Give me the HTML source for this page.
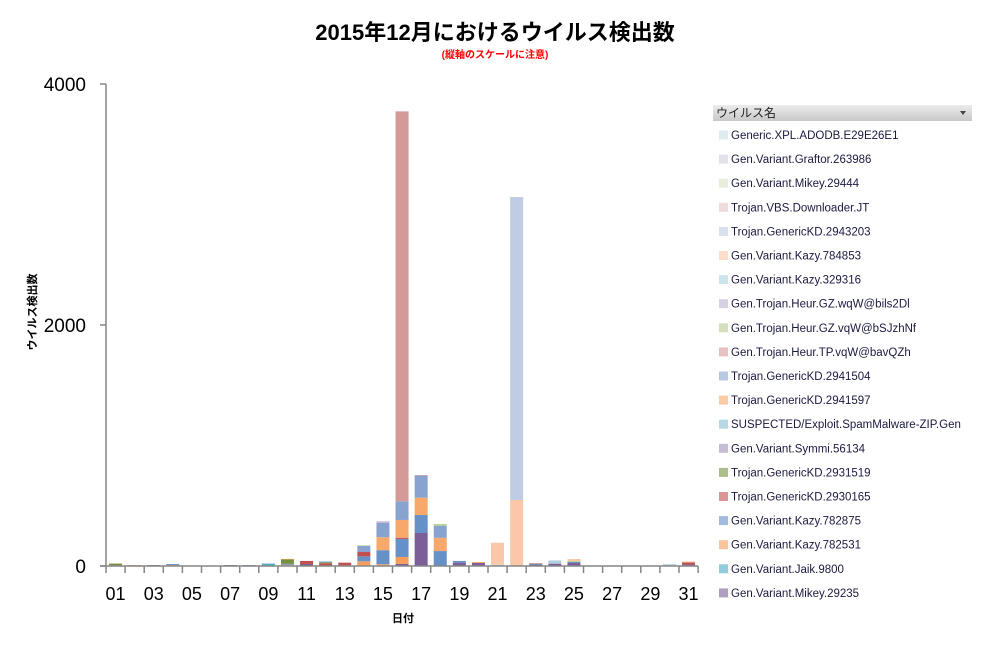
<!DOCTYPE html>
<html><head><meta charset="utf-8"><style>
body{margin:0;background:#fff;}
svg{display:block;font-family:"Liberation Sans","Noto Sans CJK JP",sans-serif;}
</style></head><body>
<svg id="chart" width="987" height="648" viewBox="0 0 987 648">
<defs><linearGradient id="hg" x1="0" y1="0" x2="0" y2="1"><stop offset="0" stop-color="#ececec"/><stop offset="1" stop-color="#c8c8c8"/></linearGradient></defs>
<rect width="987" height="648" fill="#fff"/>
<text x="495" y="40" text-anchor="middle" font-size="22" font-weight="bold" fill="#000">2015年12月におけるウイルス検出数</text>
<text x="495" y="58" text-anchor="middle" font-size="10" font-weight="bold" fill="#ff0000">(縦軸のスケールに注意)</text>
<text transform="translate(36,312) rotate(-90)" text-anchor="middle" font-size="11" font-weight="bold">ウイルス検出数</text>
<text x="403" y="622" text-anchor="middle" font-size="11" font-weight="bold">日付</text>
<g id="plot"></g>
<g id="legend">
<rect x="713" y="105" width="259" height="16" fill="url(#hg)"/>
<text x="716" y="117" font-size="12" fill="#222">ウイルス名</text>
<path d="M960 111 L966 111 L963 115 Z" fill="#444"/>
</g>
</svg>
<script>
const days = ['01','02','03','04','05','06','07','08','09','10','11','12','13','14','15','16','17','18','19','20','21','22','23','24','25','26','27','28','29','30','31'];
const yTicks = [0, 2000, 4000];
// series names, bottom of stack first
const seriesNames = ['Gen.Variant.Mikey.29235','Gen.Variant.Jaik.9800','Gen.Variant.Kazy.782531','Gen.Variant.Kazy.782875','Trojan.GenericKD.2930165','Trojan.GenericKD.2931519','Gen.Variant.Symmi.56134','SUSPECTED/Exploit.SpamMalware-ZIP.Gen','Trojan.GenericKD.2941597','Trojan.GenericKD.2941504','Gen.Trojan.Heur.TP.vqW@bavQZh','Gen.Trojan.Heur.GZ.vqW@bSJzhNf','Gen.Trojan.Heur.GZ.wqW@bils2Dl','Gen.Variant.Kazy.329316','Gen.Variant.Kazy.784853','Trojan.GenericKD.2943203','Trojan.VBS.Downloader.JT','Gen.Variant.Mikey.29444','Gen.Variant.Graftor.263986','Generic.XPL.ADODB.E29E26E1'];
const seriesColors = ['#7c5e98','#4bacc6','#f79d5a','#6590c8','#c0504d','#778f3e','#9e8db8','#86c0d4','#f9a86c','#88a3cf','#d49a98','#b5cc8e','#bdb0d0','#a9d3e0','#fac8a8','#c0cce4','#e3c4c4','#d7e4c5','#d2cde0','#c7dfe6'];
const s00 = [0,0,8,0,0,0,8,0,0,0,17,0,0,0,0,17,274,0,28,25,0,0,12,17,25,0,0,0,0,0,12];
const s01 = [0,0,0,0,0,0,0,0,20,5,0,0,0,0,0,0,0,0,0,0,0,0,5,0,0,0,0,0,0,0,0];
const s02 = [0,8,0,8,0,0,0,0,0,5,0,0,0,39,15,58,0,0,0,0,0,0,0,0,0,0,0,0,0,0,0];
const s03 = [5,0,0,8,0,0,0,8,0,8,0,0,5,41,116,150,149,124,14,0,0,0,0,0,8,0,0,0,0,0,0];
const s04 = [0,0,0,0,0,0,0,0,0,0,25,22,20,36,0,10,0,0,0,0,0,0,0,0,0,0,0,0,0,0,18];
const s05 = [15,0,0,0,0,0,0,0,0,36,0,8,0,0,0,0,0,0,0,0,0,0,0,0,0,0,0,0,0,0,0];
const s06 = [0,0,0,0,0,0,0,0,0,0,0,0,0,0,0,0,0,0,0,0,0,0,0,0,0,0,0,0,0,0,0];
const s07 = [0,0,0,0,0,0,0,0,0,0,0,0,0,0,0,0,0,0,0,0,0,0,0,0,0,0,0,0,0,0,0];
const s08 = [0,0,0,0,0,0,0,0,0,5,0,0,0,0,108,147,144,110,0,8,0,0,0,0,0,0,0,0,0,0,0];
const s09 = [0,0,0,0,0,0,0,0,0,0,0,8,0,50,119,155,183,100,0,0,0,0,0,0,0,0,0,0,0,0,0];
const s10 = [0,0,0,0,0,0,0,0,0,0,0,0,5,0,0,3236,5,0,0,0,0,0,8,0,0,0,0,0,0,0,0];
const s11 = [0,0,0,0,0,0,0,0,0,0,0,0,0,5,0,0,0,14,0,0,0,0,0,0,8,0,0,0,0,5,0];
const s12 = [0,0,0,0,0,0,0,0,0,0,0,0,0,0,12,0,0,0,0,0,0,0,0,8,0,0,0,0,0,0,0];
const s13 = [0,0,0,0,0,0,0,0,0,0,0,0,0,0,0,0,0,0,0,0,10,0,0,17,0,0,0,5,0,10,0];
const s14 = [0,0,0,0,0,0,0,0,0,0,0,0,0,0,0,0,0,0,0,0,183,548,0,0,17,5,0,0,5,0,8];
const s15 = [0,0,0,0,0,0,0,0,0,0,0,0,0,0,0,0,0,0,0,0,0,2514,0,5,0,0,0,0,0,0,0];
const s16 = [0,0,0,0,0,0,0,0,0,0,0,0,0,0,0,0,0,0,0,0,0,0,0,0,0,0,5,0,0,0,0];
const s17 = [0,0,0,0,0,0,0,0,0,0,0,0,0,0,0,0,0,0,0,0,0,0,0,0,0,0,0,0,0,0,0];
const s18 = [0,0,0,0,0,0,0,0,0,0,0,0,0,0,0,0,0,0,0,0,0,0,0,0,0,0,0,0,0,0,0];
const s19 = [0,0,0,0,0,0,0,0,0,0,0,0,0,0,0,0,0,0,0,0,0,0,0,0,0,0,0,0,0,0,0];
const seriesValues = [s00,s01,s02,s03,s04,s05,s06,s07,s08,s09,s10,s11,s12,s13,s14,s15,s16,s17,s18,s19];

const NS = 'http://www.w3.org/2000/svg';
const X0 = 106, CW = 19.1, Y0 = 566, Y1 = 84, YMAX = 4000, BW = 13;
const xScale = i => X0 + CW * i + CW / 2;
const yScale = v => Y0 - (v / YMAX) * (Y0 - Y1);
const plot = document.getElementById('plot');
function mk(tag, attrs, parent) {
  const e = document.createElementNS(NS, tag);
  for (const k in attrs) e.setAttribute(k, attrs[k]);
  parent.appendChild(e);
  return e;
}
for (let d = 0; d < days.length; d++) {
  let acc = 0;
  for (let s = 0; s < seriesValues.length; s++) {
    const v = seriesValues[s][d];
    if (!v) continue;
    const r = mk('rect', {x: xScale(d) - BW / 2, y: yScale(acc + v), width: BW, height: yScale(acc) - yScale(acc + v), fill: seriesColors[s]}, plot);
    
    
    acc += v;
  }
}
const ya = mk('line', {x1: X0, y1: Y1, x2: X0, y2: Y0, stroke: '#868686', 'stroke-width': 1.5}, plot);


const xa = mk('line', {x1: X0 - 6, y1: Y0, x2: X0 + CW * days.length, y2: Y0, stroke: '#868686', 'stroke-width': 1.5}, plot);


for (const t of yTicks) {
  mk('line', {x1: X0 - 6, y1: yScale(t), x2: X0, y2: yScale(t), stroke: '#868686', 'stroke-width': 1.5}, plot);
  const tx = mk('text', {x: 86, y: yScale(t) + 7, 'text-anchor': 'end', 'font-size': 19}, plot);
  
  
  tx.textContent = t;
}
for (let i = 0; i <= days.length; i++) {
  mk('line', {x1: X0 + CW * i, y1: Y0, x2: X0 + CW * i, y2: Y0 + 7, stroke: '#868686', 'stroke-width': 1.5}, plot);
}
for (let d = 0; d < days.length; d += 2) {
  const tx = mk('text', {x: xScale(d), y: 600, 'text-anchor': 'middle', 'font-size': 18}, plot);
  
  
  tx.textContent = days[d];
}
const lg = document.getElementById('legend');
for (let k = 0; k < seriesNames.length; k++) {
  const s = seriesNames.length - 1 - k;
  const y = 135 + k * 24.1;
  const g = mk('g', {}, lg);
  
  
  mk('rect', {x: 719, y: y - 4.5, width: 9, height: 9, fill: seriesColors[s], 'fill-opacity': 0.6}, g);
  const t = mk('text', {x: 731, y: y + 4, 'font-size': 11.5, fill: '#1a1a40', textLength: 0}, g);
  t.removeAttribute('textLength');
  t.textContent = seriesNames[s];
}
</script>
</body></html>
